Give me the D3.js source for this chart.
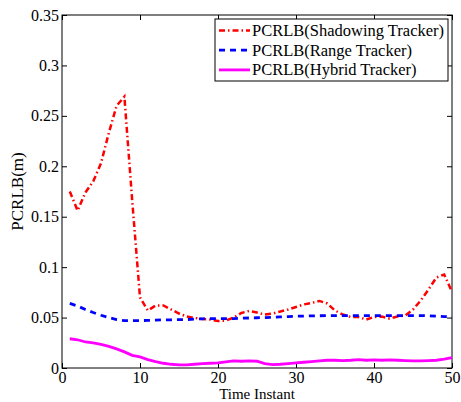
<!DOCTYPE html>
<html>
<head>
<meta charset="utf-8">
<script src="https://cdn.jsdelivr.net/npm/d3@7"></script>
<style>
  body { margin: 0; background: #fff; }
  svg text { font-family: "Liberation Serif", "Times New Roman", serif; }
</style>
</head>
<body>
<svg id="chart" width="461" height="402"></svg>
<script>
const timeSteps = d3.range(1, 51);

const shadowing = [0.175, 0.156, 0.174, 0.185, 0.203, 0.233, 0.260, 0.269, 0.166, 0.070,
  0.057, 0.062, 0.062, 0.058, 0.054, 0.051, 0.0496, 0.0486, 0.048, 0.0466,
  0.047, 0.050, 0.0546, 0.0566, 0.055, 0.053, 0.054, 0.056, 0.058, 0.0605,
  0.063, 0.0645, 0.0665, 0.064, 0.057, 0.053, 0.0506, 0.0506, 0.048, 0.0506,
  0.051, 0.049, 0.051, 0.052, 0.058, 0.067, 0.078, 0.0897, 0.0927, 0.0754];

const range = [0.064, 0.0615, 0.058, 0.055, 0.0523, 0.050, 0.048, 0.047, 0.047, 0.047,
  0.0472, 0.0475, 0.0477, 0.0478, 0.048, 0.048, 0.0485, 0.0488, 0.049, 0.049,
  0.049, 0.049, 0.0493, 0.0496, 0.0498, 0.050, 0.0503, 0.0506, 0.051, 0.0513,
  0.0515, 0.0517, 0.0518, 0.052, 0.052, 0.052, 0.052, 0.052, 0.052, 0.052,
  0.052, 0.052, 0.052, 0.052, 0.052, 0.052, 0.0518, 0.0515, 0.051, 0.0506];

const hybrid = [0.029, 0.028, 0.0258, 0.025, 0.0235, 0.0215, 0.019, 0.016, 0.0126, 0.011,
  0.0083, 0.0063, 0.0047, 0.0037, 0.003, 0.003, 0.0037, 0.0043, 0.0047, 0.005,
  0.006, 0.007, 0.0067, 0.007, 0.0067, 0.0043, 0.0033, 0.0037, 0.0043, 0.005,
  0.0057, 0.0063, 0.007, 0.0077, 0.0077, 0.0073, 0.0077, 0.0083, 0.0077, 0.008,
  0.0077, 0.008, 0.0077, 0.0073, 0.007, 0.007, 0.0073, 0.0077, 0.0087, 0.0103];

const xTicks = [0, 10, 20, 30, 40, 50];
const yTicks = [0, 0.05, 0.1, 0.15, 0.2, 0.25, 0.3, 0.35];

const series = [
  { name: "PCRLB(Shadowing Tracker)", values: shadowing, color: "#ff0000", dash: "6,3,1.5,3", width: 2.5 },
  { name: "PCRLB(Range Tracker)", values: range, color: "#0000ff", dash: "6,5", width: 2.8 },
  { name: "PCRLB(Hybrid Tracker)", values: hybrid, color: "#ff00ff", dash: null, width: 2.8 }
];

const serif = "'Liberation Serif', 'Times New Roman', serif";
const margin = { top: 15, right: 9, bottom: 34, left: 62 };
const width = 461 - margin.left - margin.right;
const height = 402 - margin.top - margin.bottom;

const svg = d3.select("#chart")
  .append("g")
  .attr("transform", `translate(${margin.left},${margin.top})`);

const x = d3.scaleLinear().domain([0, 50]).range([0, width]);
const y = d3.scaleLinear().domain([0, 0.35]).range([height, 0]);

// axes with inward ticks, mirrored on top/right
const fmt = d => d === 0 ? "0" : String(+d.toFixed(2));

svg.append("g")
  .attr("transform", `translate(0,${height})`)
  .call(d3.axisBottom(x).tickValues(xTicks).tickSize(-5).tickPadding(4).tickFormat(fmt));
svg.append("g")
  .call(d3.axisLeft(y).tickValues(yTicks).tickSize(-5).tickPadding(3).tickFormat(fmt));
svg.append("g")
  .call(d3.axisTop(x).tickValues(xTicks).tickSize(-5).tickFormat(""));
svg.append("g")
  .attr("transform", `translate(${width},0)`)
  .call(d3.axisRight(y).tickValues(yTicks).tickSize(-5).tickFormat(""));

svg.selectAll(".domain").remove();
svg.selectAll("g").attr("font-family", serif);
svg.selectAll(".tick line").attr("stroke", "#000");
svg.selectAll(".tick text")
  .attr("font-size", 16)
  .attr("fill", "#000");

svg.append("rect")
  .attr("width", width).attr("height", height)
  .attr("fill", "none").attr("stroke", "#000").attr("stroke-width", 1);

const line = d3.line()
  .x((d, i) => x(timeSteps[i]))
  .y(d => y(d));

series.forEach(s => {
  svg.append("path")
    .datum(s.values)
    .attr("d", line)
    .attr("fill", "none")
    .attr("stroke", s.color)
    .attr("stroke-width", s.width)
    .attr("stroke-dasharray", s.dash);
});

// labels
svg.append("text")
  .attr("x", width / 2).attr("y", height + 30.5)
  .attr("text-anchor", "middle").attr("font-size", 15)
  .text("Time Instant");

svg.append("text")
  .attr("transform", `translate(${-39},${height / 2}) rotate(-90)`)
  .attr("text-anchor", "middle").attr("font-size", 17)
  .text("PCRLB(m)");

// legend
const legend = svg.append("g").attr("transform", `translate(${215 - margin.left},${19 - margin.top})`);
legend.append("rect")
  .attr("width", 233).attr("height", 62)
  .attr("fill", "#fff").attr("stroke", "#000").attr("stroke-width", 1);

series.forEach((s, i) => {
  const row = legend.append("g").attr("transform", `translate(0,${11.5 + i * 19.7})`);
  row.append("line")
    .attr("x1", 4).attr("x2", 35)
    .attr("stroke", s.color).attr("stroke-width", s.width)
    .attr("stroke-dasharray", s.dash);
  row.append("text")
    .attr("x", 37).attr("y", 5.5)
    .attr("font-size", 16.5)
    .text(s.name);
});
</script>
</body>
</html>
